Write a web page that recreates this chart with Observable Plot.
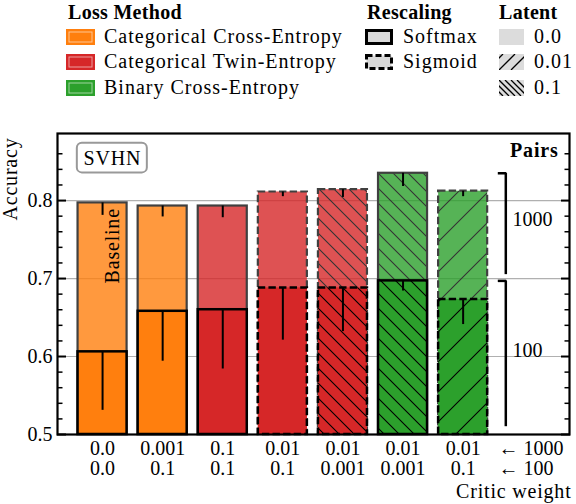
<!DOCTYPE html>
<html><head><meta charset="utf-8">
<script src="https://cdn.jsdelivr.net/npm/d3@7"></script>
<script src="https://cdn.jsdelivr.net/npm/@observablehq/plot@0.6"></script>
<style>
body{margin:0;background:#fff;font-family:"Liberation Serif",serif;color:#000;}
#legend{position:relative;width:576px;height:110px;}
#legend .t{position:absolute;font-size:20px;line-height:20px;white-space:nowrap;letter-spacing:1px;}
#legend .b{font-weight:bold;letter-spacing:0.3px;}
#legend svg{position:absolute;}
</style></head><body>
<div id="legend"></div>
<div id="chart"></div>
<script>
// ---- data ----
const lossMethods = ["Categorical Cross-Entropy", "Categorical Twin-Entropy", "Binary Cross-Entropy"];
const lossColors = ["#ff7f0e", "#d62728", "#2ca02c"];
const rescalings = ["Softmax", "Sigmoid"];
const latents = ["0.0", "0.01", "0.1"];

const barMethod = [0, 0, 1, 1, 1, 2, 2];
const barRescaling = ["Softmax", "Softmax", "Softmax", "Sigmoid", "Sigmoid", "Softmax", "Sigmoid"];
const barLatent = ["0.0", "0.0", "0.0", "0.0", "0.1", "0.1", "0.01"];
const critic1000 = ["0.0", "0.001", "0.1", "0.01", "0.01", "0.01", "0.01"];
const critic100 = ["0.0", "0.1", "0.1", "0.1", "0.001", "0.001", "0.1"];
const acc1000 = [0.797, 0.793, 0.793, 0.811, 0.814, 0.835, 0.812];
const err1000 = [0.016, 0.014, 0.015, 0.006, 0.010, 0.017, 0.007];
const acc100 = [0.606, 0.658, 0.660, 0.688, 0.688, 0.697, 0.673];
const err100 = [0.075, 0.064, 0.076, 0.067, 0.056, 0.013, 0.032];

const yMajor = [0.5, 0.6, 0.7, 0.8];
const yGrid = [0.6, 0.7, 0.8];
const yMinor = [0.52, 0.54, 0.56, 0.58, 0.62, 0.64, 0.66, 0.68, 0.72, 0.74, 0.76, 0.78, 0.82, 0.84, 0.86];

const pairsLabels = ["1000", "100"];
const pairsTop = [0.835, 0.697];
const pairsBottom = [0.705, 0.510];
const pairsLabelY = [0.775, 0.608];
const arrowLabels = ["\u2190 1000", "\u2190 100"];

// ---- legend ----
const L = document.getElementById("legend");
function add(html){ L.insertAdjacentHTML("beforeend", html); }
const rowY = [36.5, 62, 87.5];
add(`<div class="t b" style="left:68px;top:2px">Loss Method</div>`);
add(`<div class="t b" style="left:367px;top:2px">Rescaling</div>`);
add(`<div class="t b" style="left:499px;top:2px">Latent</div>`);
lossMethods.forEach((m, k) => {
  add(`<svg style="left:66px;top:${rowY[k]-8}px" width="29" height="16"><rect x="0" y="0" width="29" height="16" fill="${lossColors[k]}"/><rect x="3" y="3" width="23" height="10" fill="none" stroke="rgba(255,255,255,0.55)" stroke-width="1"/></svg>`);
  add(`<div class="t" style="left:104px;top:${rowY[k]-11}px">${m}</div>`);
});
rescalings.forEach((r, k) => {
  const dash = r === "Sigmoid" ? `stroke-dasharray="6,3"` : "";
  add(`<svg style="left:365px;top:${rowY[k]-8}px" width="28" height="16"><rect x="1.5" y="1.5" width="25" height="13" fill="#d9d9d9" stroke="#000" stroke-width="3" ${dash}/></svg>`);
  add(`<div class="t" style="left:403px;top:${rowY[k]-11}px">${r}</div>`);
});
latents.forEach((l, k) => {
  let lines = "";
  if (l === "0.01") {
    for (const o of [-12, 0, 12]) lines += `M${o},16 L${o+16},0 `;
  } else if (l === "0.1") {
    for (const o of [-12, -6, 0, 6, 12, 18]) lines += `M${o},0 L${o+16},16 `;
  }
  add(`<svg style="left:499px;top:${rowY[k]-8}px" width="25" height="16"><rect x="0" y="0" width="25" height="16" fill="#dcdcdc"/>${lines ? `<path d="${lines}" stroke="#000" stroke-width="1.3"/>` : ""}</svg>`);
  add(`<div class="t" style="left:534px;top:${rowY[k]-11}px">${l}</div>`);
});

// ---- chart ----
const bars = barMethod.map((m, i) => ({
  i, color: lossColors[m], rescaling: barRescaling[i], latent: barLatent[i],
  a1000: acc1000[i], e1000: err1000[i], a100: acc100[i], e100: err100[i],
  label: critic1000[i] + "\n" + critic100[i]
}));
const hw = 0.408;
const X1 = d => d.i - hw, X2 = d => d.i + hw;
const soft = bars.filter(d => d.rescaling === "Softmax");
const sig = bars.filter(d => d.rescaling === "Sigmoid");
const hatchA = bars.filter(d => d.latent === "0.1");
const hatchB = bars.filter(d => d.latent === "0.01");
const dash = "7.4,3.2";
const pairs = pairsLabels.map((p, k) => ({p, top: pairsTop[k], bottom: pairsBottom[k], ly: pairsLabelY[k]}));

const plot = Plot.plot({
  width: 576, height: 394,
  marginTop: 23, marginBottom: 70, marginLeft: 57, marginRight: 7,
  x: {domain: [-0.75, 7.77], axis: null},
  y: {domain: [0.5, 0.886], axis: null},
  style: {fontFamily: "Liberation Serif, serif", fontSize: "20px", background: "white", overflow: "visible", color: "black"},
  marks: [
    Plot.ruleY(yGrid, {stroke: "#b0b0b0", strokeWidth: 1.2}),
    // 1000 pairs bars (lighter)
    Plot.rect(bars, {x1: X1, x2: X2, y1: 0.5, y2: "a1000", fill: "color", fillOpacity: 0.8}),
    Plot.rect(hatchA, {x1: X1, x2: X2, y1: 0.5, y2: "a1000", fill: "url(#hA1000)"}),
    Plot.rect(hatchB, {x1: X1, x2: X2, y1: 0.5, y2: "a1000", fill: "url(#hB1000)"}),
    Plot.rect(soft, {x1: X1, x2: X2, y1: 0.5, y2: "a1000", fill: "none", stroke: "#404040", strokeWidth: 2.2}),
    Plot.rect(sig, {x1: X1, x2: X2, y1: 0.5, y2: "a1000", fill: "none", stroke: "#404040", strokeWidth: 2.2, strokeDasharray: dash}),
    Plot.ruleX(bars, {x: "i", y1: d => d.a1000 - d.e1000, y2: "a1000", stroke: "black", strokeWidth: 2}),
    // 100 pairs bars
    Plot.rect(bars, {x1: X1, x2: X2, y1: 0.5, y2: "a100", fill: "color"}),
    Plot.rect(hatchA, {x1: X1, x2: X2, y1: 0.5, y2: "a100", fill: "url(#hA100)"}),
    Plot.rect(hatchB, {x1: X1, x2: X2, y1: 0.5, y2: "a100", fill: "url(#hB100)"}),
    Plot.rect(soft, {x1: X1, x2: X2, y1: 0.5, y2: "a100", fill: "none", stroke: "black", strokeWidth: 2.5}),
    Plot.rect(sig, {x1: X1, x2: X2, y1: 0.5, y2: "a100", fill: "none", stroke: "black", strokeWidth: 2.5, strokeDasharray: dash}),
    Plot.ruleX(bars, {x: "i", y1: d => d.a100 - d.e100, y2: "a100", stroke: "black", strokeWidth: 2}),
    // x tick labels (two rows)
    Plot.text(bars, {x: "i", y: 0.5, text: "label", lineAnchor: "top", dy: 6, lineHeight: 1.0, fontSize: 20}),
    Plot.text([arrowLabels.join("\n")], {x: 6.59, y: 0.5, text: d => d, textAnchor: "start", lineAnchor: "top", dy: 6, lineHeight: 1.0, fontSize: 20}),
    // y axis ticks and labels
    Plot.axisY({anchor: "left", ticks: yMinor, tickSize: -5.5, tickFormat: () => "", label: null, strokeWidth: 1.5}),
    Plot.axisY({anchor: "right", ticks: yMinor, tickSize: -5.5, tickFormat: () => "", label: null, strokeWidth: 1.5}),
    Plot.axisY({anchor: "left", ticks: yMajor, tickSize: -9, tickFormat: () => "", label: null, strokeWidth: 2}),
    Plot.axisY({anchor: "right", ticks: yMajor, tickSize: -9, tickFormat: () => "", label: null, strokeWidth: 2}),
    Plot.text(yMajor, {x: -0.75, y: d => d, text: d => d.toFixed(1), textAnchor: "end", dx: -5, fontSize: 20}),
    // axis labels
    Plot.text(["Accuracy"], {frameAnchor: "top-left", rotate: -90, textAnchor: "end", lineAnchor: "bottom", dx: -41, dy: 4, fontSize: 20}),
    Plot.text(["Critic weight"], {frameAnchor: "bottom-right", textAnchor: "end", lineAnchor: "bottom", dx: 2, dy: 63, fontSize: 20}),
    // annotations
    Plot.rect([0], {x1: -0.42, x2: 0.745, y1: 0.8355, y2: 0.8735, fill: "white", stroke: "#999", strokeWidth: 2, rx: 5}),
    Plot.text(["SVHN"], {x: 0.163, y: 0.854, text: d => d, fontSize: 20}),
    Plot.text(["Baseline"], {x: 0, y: 0.742, text: d => d, rotate: -90, lineAnchor: "bottom", dx: 16.5, fontSize: 20}),
    Plot.text(["Pairs"], {frameAnchor: "top-right", textAnchor: "end", lineAnchor: "bottom", dx: -11, dy: 23, fontWeight: "bold", fontSize: 20}),
    Plot.ruleX(pairs, {x: 6.71, y1: "bottom", y2: "top", stroke: "black", strokeWidth: 2.5}),
    Plot.ruleY(pairs, {y: "top", x1: 6.585, x2: 6.725, stroke: "black", strokeWidth: 2.5}),
    Plot.text(pairs, {x: 6.82, y: "ly", text: "p", textAnchor: "start", fontSize: 20}),
    Plot.frame({stroke: "black", strokeWidth: 2.2})
  ]
});

// hatch patterns
const defs = document.createElementNS("http://www.w3.org/2000/svg", "defs");
defs.innerHTML = `
<pattern id="hA1000" patternUnits="userSpaceOnUse" width="15" height="15"><path d="M0,0 L15,15 M-2,13 L2,17 M13,-2 L17,2" stroke="#333" stroke-width="1.1"/></pattern>
<pattern id="hA100" patternUnits="userSpaceOnUse" width="15" height="15"><path d="M0,0 L15,15 M-2,13 L2,17 M13,-2 L17,2" stroke="#000" stroke-width="1.1"/></pattern>
<pattern id="hB1000" patternUnits="userSpaceOnUse" width="30" height="30"><path d="M0,30 L30,0 M-2,2 L2,-2 M28,32 L32,28" stroke="#333" stroke-width="1.1"/></pattern>
<pattern id="hB100" patternUnits="userSpaceOnUse" width="30" height="30"><path d="M0,30 L30,0 M-2,2 L2,-2 M28,32 L32,28" stroke="#000" stroke-width="1.1"/></pattern>`;
plot.insertBefore(defs, plot.firstChild);
d3.select(plot).selectAll("text").filter(function(){ return /[A-Za-z]/.test(this.textContent); }).style("letter-spacing", "0.8px");
document.getElementById("chart").appendChild(plot);
</script>
</body></html>
